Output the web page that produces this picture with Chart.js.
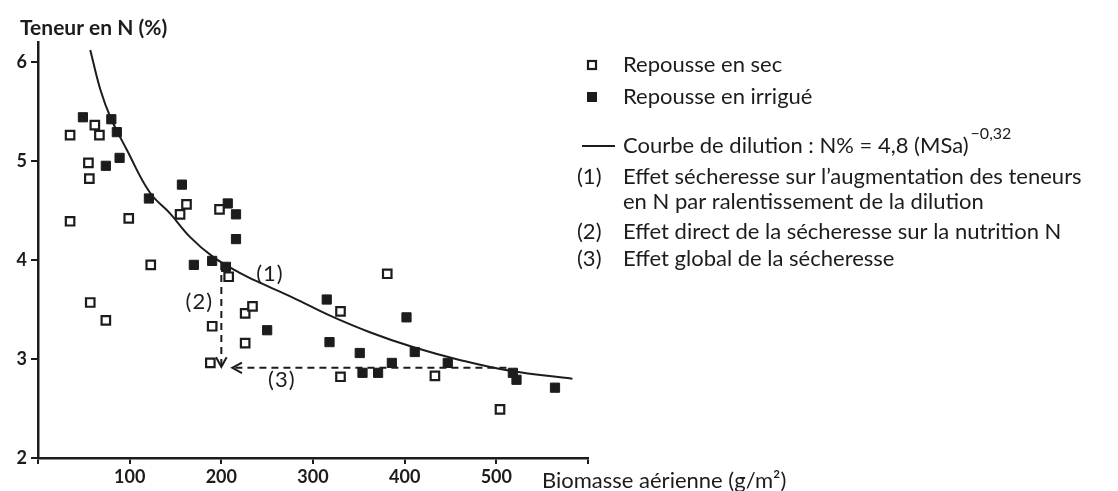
<!DOCTYPE html>
<html>
<head>
<meta charset="utf-8">
<script src="https://cdn.jsdelivr.net/npm/chart.js@4.4.0/dist/chart.umd.min.js"></script>
<style>
  html, body { margin: 0; padding: 0; background: #fff; }
  #wrap { width: 1118px; height: 491px; position: relative; }
</style>
</head>
<body>
<div id="wrap"><canvas id="chart"></canvas></div>
<script>
// Repousse en sec (carrés vides)
const secX = [35, 62, 67, 55, 56, 35, 99, 155, 162, 198, 123, 57, 74, 208, 226, 234, 190, 226, 188, 381, 330, 330, 433, 504];
const secY = [5.26, 5.36, 5.26, 4.98, 4.82, 4.39, 4.42, 4.46, 4.56, 4.51, 3.95, 3.57, 3.39, 3.83, 3.46, 3.53, 3.33, 3.16, 2.96, 3.86, 3.48, 2.82, 2.83, 2.49];

// Repousse en irrigué (carrés pleins)
const irrX = [49, 80, 86, 74, 89, 121, 157, 207, 216, 216, 170, 190, 205, 250, 315, 318, 351, 354, 371, 386, 402, 411, 447, 518, 522, 564];
const irrY = [5.44, 5.42, 5.29, 4.95, 5.03, 4.62, 4.76, 4.57, 4.46, 4.21, 3.95, 3.99, 3.93, 3.29, 3.6, 3.17, 3.06, 2.86, 2.86, 2.96, 3.42, 3.07, 2.96, 2.86, 2.79, 2.71];

// Courbe de dilution
const curveX = [57, 68, 79, 97, 122, 144, 166, 191, 220, 242, 278, 318, 362, 409, 460, 515, 583];
const curveY = [6.12, 5.72, 5.44, 5.11, 4.68, 4.47, 4.23, 4.03, 3.87, 3.77, 3.62, 3.44, 3.27, 3.12, 2.99, 2.88, 2.80];

// flèches en tirets (2) et (3)
const arrow2X = [200, 200];
const arrow2Y = [3.97, 2.92];
const arrow3X = [511, 212];
const arrow3Y = [2.91, 2.91];

// étiquettes (1) (2) (3) dans le graphique
const markLabels = ['(1)', '(2)', '(3)'];
const markX = [253, 176, 266];
const markY = [3.86, 3.58, 2.79];

const xTicks = [100, 200, 300, 400, 500];
const yTicks = [2, 3, 4, 5, 6];

const legendLines = [
    { sym: 'open', text: 'Repousse en sec' },
    { sym: 'fill', text: 'Repousse en irrigué' },
    { sym: 'line', text: 'Courbe de dilution : N% = 4,8 (MSa)', sup: '−0,32' },
    { sym: '(1)', text: 'Effet sécheresse sur l\u2019augmentation des teneurs', text2: 'en N par ralentissement de la dilution' },
    { sym: '(2)', text: 'Effet direct de la sécheresse sur la nutrition N' },
    { sym: '(3)', text: 'Effet global de la sécheresse' }
];

const INK = '#1c1c1c';
const FONT = '"Lato", "Open Sans", sans-serif';

const zip = (xs, ys) => xs.map((x, i) => ({ x, y: ys[i] }));

function arrowHead(ctx, x0, y0, x1, y1) {
    const a = Math.atan2(y1 - y0, x1 - x0), L = 11;
    ctx.beginPath();
    ctx.moveTo(x1 - L * Math.cos(a - 0.5), y1 - L * Math.sin(a - 0.5));
    ctx.lineTo(x1, y1);
    ctx.lineTo(x1 - L * Math.cos(a + 0.5), y1 - L * Math.sin(a + 0.5));
    ctx.stroke();
}

const decor = {
    id: 'decor',
    afterDatasetsDraw(chart) {
        const { ctx, scales: { x, y } } = chart;
        ctx.save();
        ctx.strokeStyle = INK;
        ctx.fillStyle = INK;
        ctx.lineWidth = 2;
        ctx.setLineDash([]);
        // pointes de flèches
        arrowHead(ctx, x.getPixelForValue(arrow2X[0]), y.getPixelForValue(arrow2Y[0]),
                  x.getPixelForValue(arrow2X[1]), y.getPixelForValue(arrow2Y[1]));
        arrowHead(ctx, x.getPixelForValue(arrow3X[0]), y.getPixelForValue(arrow3Y[0]),
                  x.getPixelForValue(arrow3X[1]), y.getPixelForValue(arrow3Y[1]));

        ctx.font = '22px ' + FONT;
        ctx.textAlign = 'center';
        ctx.textBaseline = 'middle';
        ctx.letterSpacing = '1px';
        markLabels.forEach((t, i) => ctx.fillText(t, x.getPixelForValue(markX[i]), y.getPixelForValue(markY[i])));
        ctx.letterSpacing = '0px';

        // titres d'axes
        ctx.textAlign = 'left';
        ctx.font = 'bold 21px ' + FONT;
        ctx.fillText('Teneur en N (%)', 20, 28);
        ctx.font = '22px ' + FONT;
        ctx.fillText('Biomasse aérienne (g/m²)', 542, 481);

        // légende
        const lx = 623;
        const rows = [65, 97, 146, 177, 232, 259];
        ctx.font = '22px ' + FONT;
        legendLines.forEach((it, i) => {
            const ry = rows[i];
            if (it.sym === 'open') {
                ctx.lineWidth = 2.2;
                ctx.strokeRect(588, ry - 4, 8, 8);
            } else if (it.sym === 'fill') {
                ctx.fillRect(587, ry - 5, 10, 10);
            } else if (it.sym === 'line') {
                ctx.lineWidth = 2;
                ctx.beginPath(); ctx.moveTo(582, ry); ctx.lineTo(615, ry); ctx.stroke();
            } else {
                ctx.fillText(it.sym, 577, ry);
            }
            ctx.fillText(it.text, lx, ry);
            if (it.sup) {
                const w = ctx.measureText(it.text).width;
                ctx.font = '16px ' + FONT;
                ctx.fillText(it.sup, lx + w + 2, ry - 12);
                ctx.font = '22px ' + FONT;
            }
            if (it.text2) ctx.fillText(it.text2, lx, ry + 25);
        });
        ctx.restore();
    }
};

new Chart(document.getElementById('chart'), {
    type: 'scatter',
    data: {
        datasets: [
            {
                label: 'Courbe de dilution',
                type: 'line',
                data: zip(curveX, curveY),
                borderColor: INK,
                borderWidth: 2,
                pointRadius: 0,
                tension: 0.4,
                fill: false
            },
            {
                label: '(2)',
                type: 'line',
                data: zip(arrow2X, arrow2Y),
                borderColor: INK,
                borderWidth: 2,
                borderDash: [7, 5],
                pointRadius: 0
            },
            {
                label: '(3)',
                type: 'line',
                data: zip(arrow3X, arrow3Y),
                borderColor: INK,
                borderWidth: 2,
                borderDash: [7, 5],
                pointRadius: 0
            },
            {
                label: 'Repousse en sec',
                data: zip(secX, secY),
                pointStyle: 'rect',
                pointRadius: 6,
                borderColor: INK,
                borderWidth: 2.2,
                backgroundColor: '#fff'
            },
            {
                label: 'Repousse en irrigué',
                data: zip(irrX, irrY),
                pointStyle: 'rect',
                pointRadius: 6.5,
                borderColor: INK,
                borderWidth: 1,
                backgroundColor: INK
            }
        ]
    },
    options: {
        responsive: true,
        maintainAspectRatio: false,
        animation: false,
        layout: { padding: { top: 42, right: 530, left: 0, bottom: 0 } },
        plugins: { legend: { display: false }, tooltip: { enabled: false } },
        scales: {
            x: {
                type: 'linear',
                min: 0,
                max: 600,
                afterFit(s) { s.height = 33; },
                afterBuildTicks(s) { s.ticks = [0, ...xTicks, 600].map(v => ({ value: v })); },
                grid: { drawOnChartArea: false, drawTicks: true, tickLength: 6, color: INK, lineWidth: 2 },
                border: { color: INK, width: 2.5 },
                ticks: {
                    color: INK,
                    font: { family: FONT, size: 18, weight: 'bold' },
                    padding: 2,
                    maxRotation: 0,
                    callback: v => xTicks.includes(v) ? String(v) : ''
                }
            },
            y: {
                type: 'linear',
                min: 2,
                max: 6.2,
                afterFit(s) { s.width = 38; },
                afterBuildTicks(s) { s.ticks = yTicks.map(v => ({ value: v })); },
                grid: { drawOnChartArea: false, drawTicks: true, tickLength: 7, color: INK, lineWidth: 2 },
                border: { color: INK, width: 2.5 },
                ticks: {
                    color: INK,
                    font: { family: FONT, size: 18, weight: 'bold' },
                    padding: 4
                }
            }
        }
    },
    plugins: [decor]
});
</script>
</body>
</html>
